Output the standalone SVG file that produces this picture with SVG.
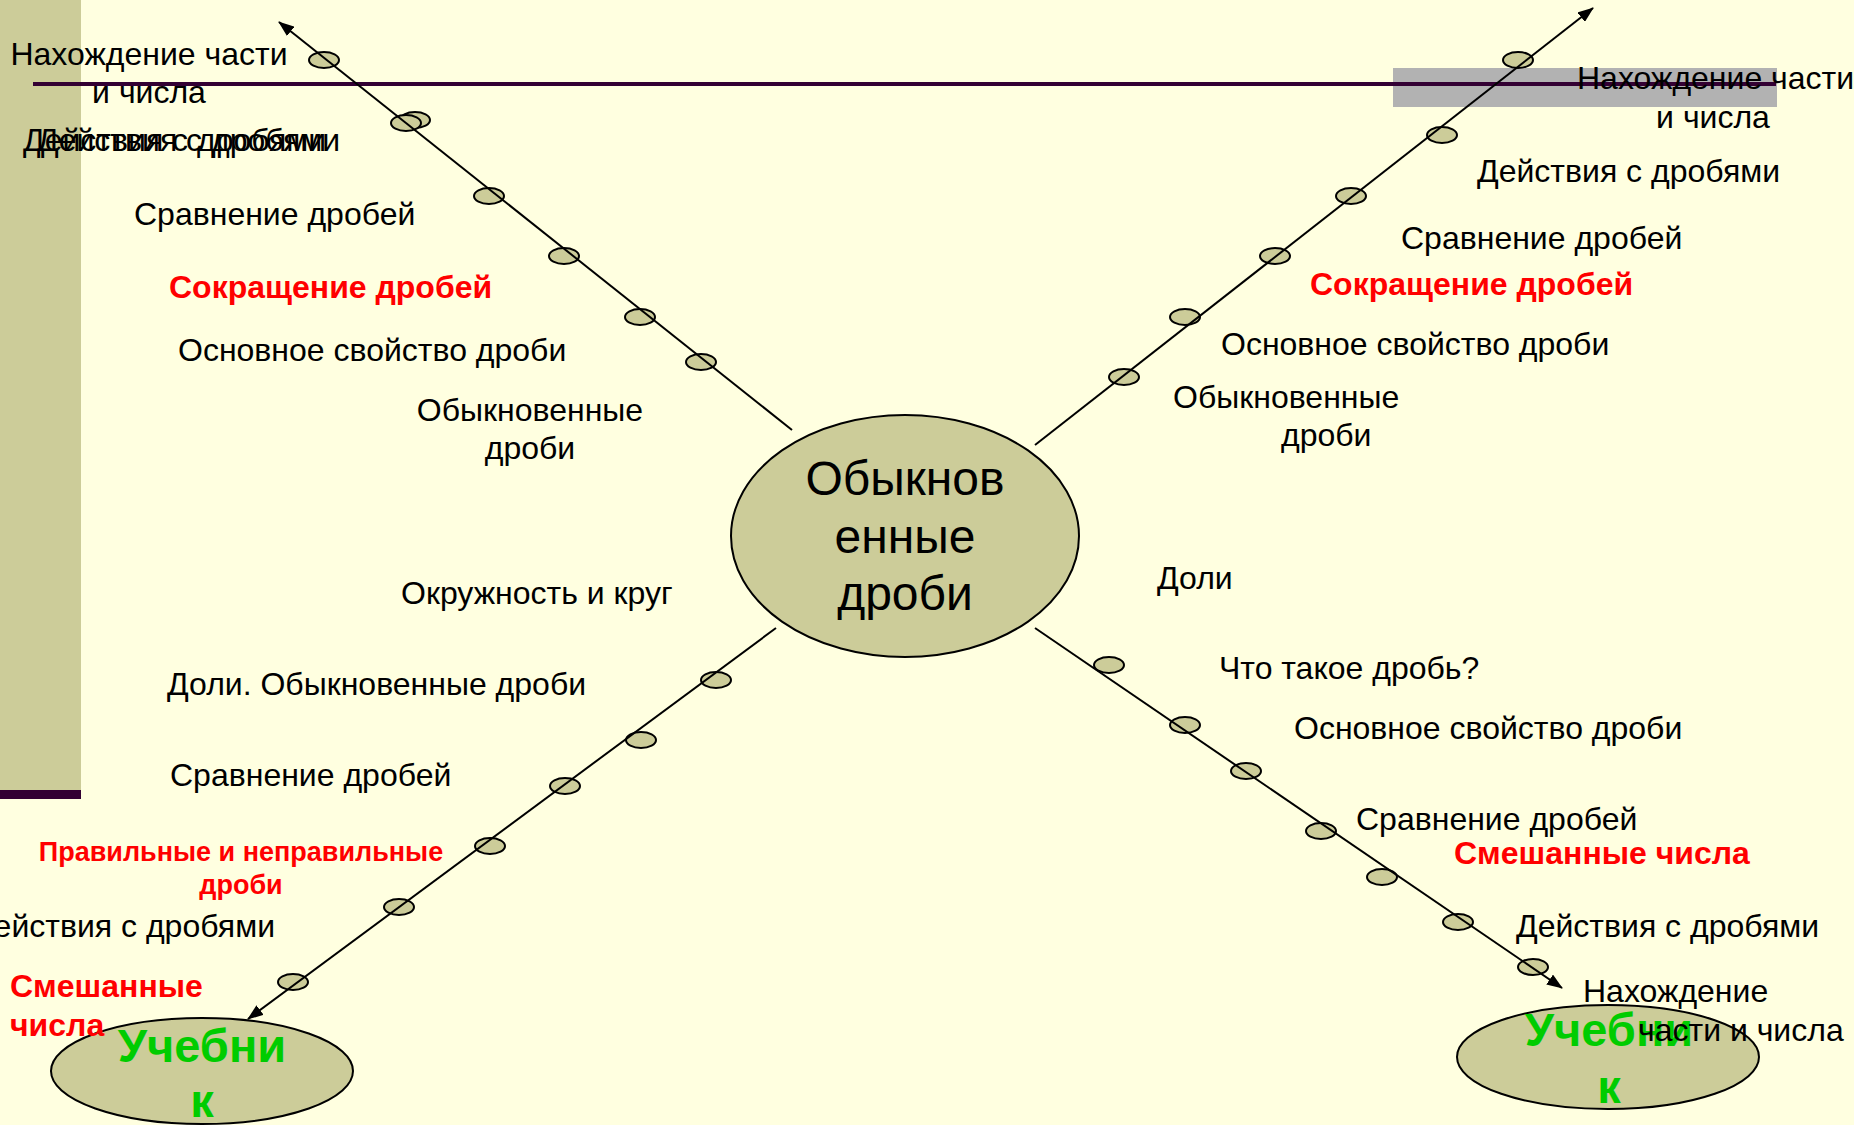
<svg xmlns="http://www.w3.org/2000/svg" width="1854" height="1125" viewBox="0 0 1854 1125">
<style>
.t{font-family:"Liberation Sans",Arial,sans-serif;font-size:32px;fill:#000}
.r{font-family:"Liberation Sans",Arial,sans-serif;font-size:32px;font-weight:bold;fill:#FF0000}
.g{font-family:"Liberation Sans",Arial,sans-serif;font-size:47px;font-weight:bold;fill:#00CC00;text-anchor:middle}
.c{font-family:"Liberation Sans",Arial,sans-serif;font-size:48px;fill:#000;text-anchor:middle}
.m{text-anchor:middle}
.dot{fill:#CCCC99;stroke:#000;stroke-width:2}
.big{fill:#CCCC99;stroke:#000;stroke-width:2}
.ln{stroke:#000;stroke-width:2;fill:none;marker-end:url(#ah)}
.ln0{stroke:#000;stroke-width:2;fill:none}
</style>
<defs>
<marker id="ah" markerUnits="userSpaceOnUse" markerWidth="16" markerHeight="12" refX="15" refY="6" orient="auto">
<path d="M0,0 L16,6 L0,12 z" fill="#000"/>
</marker>
</defs>
<rect width="1854" height="1125" fill="#FFFFE0"/>
<g id="decor">
<rect x="0" y="0" width="81" height="790" fill="#CCCC99"/>
<rect x="0" y="790" width="81" height="9" fill="#330033"/>
<rect x="1393" y="68" width="384" height="39" fill="#B2B2B2"/>
<line x1="33" y1="84" x2="1776" y2="84" stroke="#330033" stroke-width="4"/>
</g>
<g id="dots">
<ellipse class="dot" cx="324" cy="60" rx="15" ry="8"/>
<ellipse class="dot" cx="415" cy="120" rx="15" ry="8"/>
<ellipse class="dot" cx="406" cy="123" rx="15" ry="8"/>
<ellipse class="dot" cx="489" cy="196" rx="15" ry="8"/>
<ellipse class="dot" cx="564" cy="256" rx="15" ry="8"/>
<ellipse class="dot" cx="640" cy="317" rx="15" ry="8"/>
<ellipse class="dot" cx="701" cy="362" rx="15" ry="8"/>
<ellipse class="dot" cx="1518" cy="60" rx="15" ry="8"/>
<ellipse class="dot" cx="1442" cy="135" rx="15" ry="8"/>
<ellipse class="dot" cx="1351" cy="196" rx="15" ry="8"/>
<ellipse class="dot" cx="1275" cy="256" rx="15" ry="8"/>
<ellipse class="dot" cx="1185" cy="317" rx="15" ry="8"/>
<ellipse class="dot" cx="1124" cy="377" rx="15" ry="8"/>
<ellipse class="dot" cx="716" cy="680" rx="15" ry="8"/>
<ellipse class="dot" cx="641" cy="740" rx="15" ry="8"/>
<ellipse class="dot" cx="565" cy="786" rx="15" ry="8"/>
<ellipse class="dot" cx="490" cy="846" rx="15" ry="8"/>
<ellipse class="dot" cx="399" cy="907" rx="15" ry="8"/>
<ellipse class="dot" cx="293" cy="982" rx="15" ry="8"/>
<ellipse class="dot" cx="1109" cy="665" rx="15" ry="8"/>
<ellipse class="dot" cx="1185" cy="725" rx="15" ry="8"/>
<ellipse class="dot" cx="1246" cy="771" rx="15" ry="8"/>
<ellipse class="dot" cx="1321" cy="831" rx="15" ry="8"/>
<ellipse class="dot" cx="1382" cy="877" rx="15" ry="8"/>
<ellipse class="dot" cx="1458" cy="922" rx="15" ry="8"/>
<ellipse class="dot" cx="1533" cy="967" rx="15" ry="8"/>
</g>
<g id="connectors">
<line class="ln" x1="792" y1="430" x2="279" y2="22"/>
<line class="ln" x1="1035" y1="445" x2="1593" y2="8"/>
<line class="ln" x1="776" y1="628" x2="248" y2="1019"/>
<line class="ln" x1="1035" y1="628" x2="1562" y2="988"/>
</g>
<g id="center">
<ellipse class="big" cx="905" cy="536" rx="174" ry="121"/>
<text class="c" x="905" y="495">Обыкнов</text>
<text class="c" x="905" y="553">енные</text>
<text class="c" x="905" y="610">дроби</text>
</g>
<g id="textbook-left">
<ellipse class="big" cx="202" cy="1071" rx="151" ry="53"/>
<text class="g" x="202" y="1062">Учебни</text>
<text class="g" x="202" y="1117">к</text>
</g>
<g id="textbook-right">
<ellipse class="big" cx="1608" cy="1057" rx="151" ry="52"/>
<text class="g" x="1609" y="1046">Учебни</text>
<text class="g" x="1609" y="1103">к</text>
</g>
<g id="labels-upper-left">
<text class="t m" x="149" y="65">Нахождение части</text>
<text class="t m" x="149" y="103">и числа</text>
<text class="t" x="23" y="151">Действия с дробями</text>
<text class="t" x="37" y="151">Действия с дробями</text>
<text class="t" x="134" y="225">Сравнение дробей</text>
<text class="r" x="169" y="298">Сокращение дробей</text>
<text class="t" x="178" y="361">Основное свойство дроби</text>
<text class="t m" x="530" y="421">Обыкновенные</text>
<text class="t m" x="530" y="459">дроби</text>
</g>
<g id="labels-upper-right">
<text class="t" x="1577" y="89">Нахождение части</text>
<text class="t m" x="1713" y="128">и числа</text>
<text class="t" x="1477" y="182">Действия с дробями</text>
<text class="t" x="1401" y="249">Сравнение дробей</text>
<text class="r" x="1310" y="295">Сокращение дробей</text>
<text class="t" x="1221" y="355">Основное свойство дроби</text>
<text class="t" x="1173" y="408">Обыкновенные</text>
<text class="t" x="1281" y="446">дроби</text>
</g>
<g id="labels-lower-left">
<text class="t" x="401" y="604">Окружность и круг</text>
<text class="t" x="167" y="695">Доли. Обыкновенные дроби</text>
<text class="t" x="170" y="786">Сравнение дробей</text>
<text class="r m" x="241" y="861" style="font-size:27px">Правильные и неправильные</text>
<text class="r m" x="241" y="894" style="font-size:27px">дроби</text>
<text class="t" x="275" y="937" text-anchor="end">Действия с дробями</text>
<text class="r" x="10" y="997">Смешанные</text>
<text class="r" x="10" y="1036">числа</text>
</g>
<g id="labels-lower-right">
<text class="t" x="1157" y="589">Доли</text>
<text class="t" x="1219" y="679">Что такое дробь?</text>
<text class="t" x="1294" y="739">Основное свойство дроби</text>
<text class="t" x="1356" y="830">Сравнение дробей</text>
<text class="r" x="1454" y="864">Смешанные числа</text>
<text class="t" x="1516" y="937">Действия с дробями</text>
<text class="t" x="1583" y="1002">Нахождение</text>
<text class="t" x="1638" y="1041">части и числа</text>
</g>
</svg>
